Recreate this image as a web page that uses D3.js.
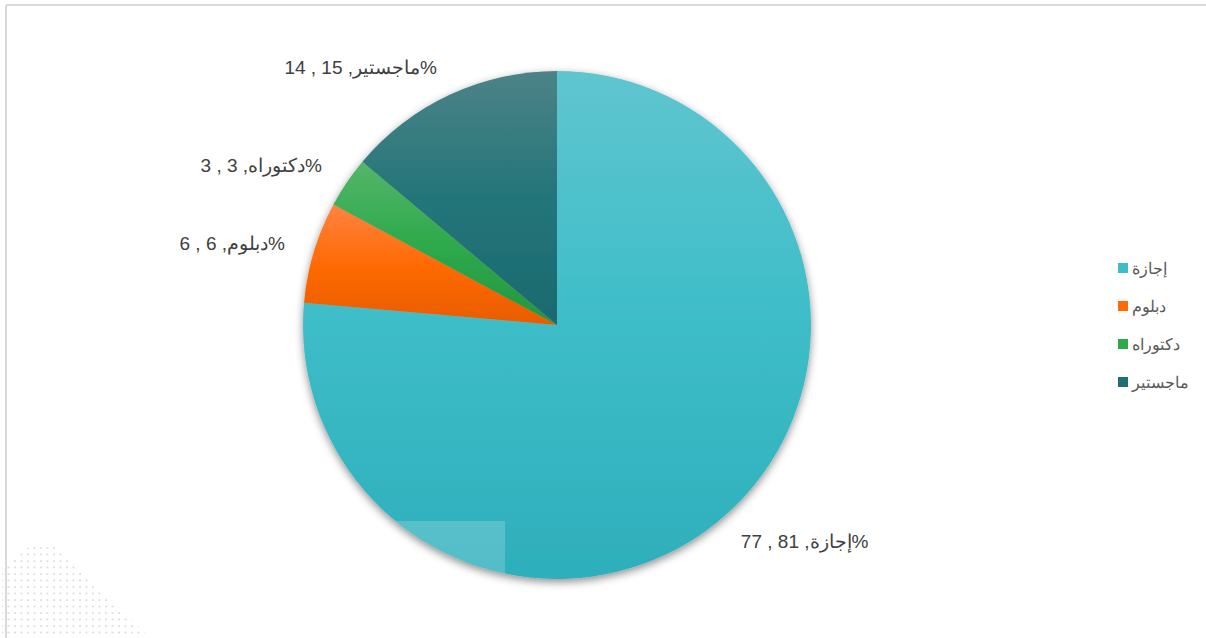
<!DOCTYPE html>
<html>
<head>
<meta charset="utf-8">
<script src="https://cdn.jsdelivr.net/npm/d3@7"></script>
<style>
  body { margin: 0; background: #fff; }
  svg { display: block; font-family: "Liberation Sans", Arial, sans-serif; }
</style>
</head>
<body>
<div id="chart"></div>
<script>
// data
var categories = ["إجازة", "دبلوم", "دكتوراه", "ماجستير"];
var values = [77.81, 6.6, 3.3, 14.15];
var valueLabels = ["77 , 81", "6 , 6", "3 , 3", "14 , 15"];

// colours: top / middle / bottom of each slice gradient
var colors = [
  ["#5fc5cf", "#3dbdc8", "#2eafbb"],
  ["#ff8340", "#ff6a05", "#e85c00"],
  ["#55b56a", "#2eaa4c", "#24963f"],
  ["#4c8387", "#237579", "#1b6a70"]
];
var legendColors = ["#3dbdc8", "#ff6a05", "#2eaa4c", "#1f7075"];

var width = 1206, height = 638;
var cx = 557, cy = 325, radius = 254;

var svg = d3.select("#chart")
  .append("svg")
    .attr("width", width)
    .attr("height", height);

var defs = svg.append("defs");

// one vertical gradient per slice
colors.forEach(function(c, i) {
  var g = defs.append("linearGradient")
    .attr("id", "grad" + i)
    .attr("x1", 0).attr("y1", 0).attr("x2", 0).attr("y2", 1);
  g.append("stop").attr("offset", "0%").attr("stop-color", c[0]);
  g.append("stop").attr("offset", "50%").attr("stop-color", c[1]);
  g.append("stop").attr("offset", "100%").attr("stop-color", c[2]);
});

var shadow = defs.append("filter")
  .attr("id", "shadow")
  .attr("x", "-10%").attr("y", "-10%").attr("width", "120%").attr("height", "120%");
shadow.append("feDropShadow")
  .attr("dx", 0).attr("dy", 3)
  .attr("stdDeviation", 4)
  .attr("flood-color", "#000")
  .attr("flood-opacity", 0.45);

defs.append("clipPath").attr("id", "pieClip")
  .append("circle").attr("cx", cx).attr("cy", cy).attr("r", radius);

// dotted decoration, bottom left
var dots = defs.append("pattern")
  .attr("id", "dots")
  .attr("patternUnits", "userSpaceOnUse")
  .attr("width", 6.5).attr("height", 6.5);
dots.append("circle").attr("cx", 2).attr("cy", 2).attr("r", 0.9).attr("fill", "#cfcfcf");

svg.append("path")
  .attr("d", "M2,638 L2,568 L25,548 L55,545 L150,638 Z")
  .attr("fill", "url(#dots)");

// frame lines top / left
svg.append("line")
  .attr("x1", 6).attr("y1", 5).attr("x2", width).attr("y2", 5)
  .attr("stroke", "#d9d9d9").attr("stroke-width", 2);
svg.append("line")
  .attr("x1", 6).attr("y1", 5).attr("x2", 6).attr("y2", height)
  .attr("stroke", "#d9d9d9").attr("stroke-width", 2);

// pie
var pie = d3.pie().sort(null).value(function(d) { return d; });
var arcs = pie(values);
var arc = d3.arc().innerRadius(0).outerRadius(radius);
var labelArc = d3.arc().innerRadius(284).outerRadius(284);

var g = svg.append("g")
  .attr("transform", "translate(" + cx + "," + cy + ")");

var slices = g.append("g").attr("filter", "url(#shadow)");
slices.selectAll("path")
  .data(arcs)
  .enter()
  .append("path")
    .attr("d", arc)
    .attr("fill", function(d, i) { return "url(#grad" + i + ")"; });

// light overlay block near the bottom of the pie
svg.append("rect")
  .attr("x", 395).attr("y", 521).attr("width", 110).attr("height", 70)
  .attr("fill", "#ffffff").attr("opacity", 0.18)
  .attr("clip-path", "url(#pieClip)");

// data labels
g.selectAll("text.lbl")
  .data(arcs)
  .enter()
  .append("text")
    .attr("class", "lbl")
    .attr("direction", "ltr")
    .attr("transform", function(d) {
      var c = labelArc.centroid(d);
      var mid = (d.startAngle + d.endAngle) / 2;
      // right side label sits a bit lower and closer, like the original
      if (mid < Math.PI) { c[0] -= 8; c[1] += 7; }
      return "translate(" + c + ")";
    })
    .attr("text-anchor", function(d) {
      var mid = (d.startAngle + d.endAngle) / 2;
      return mid < Math.PI ? "start" : "end";
    })
    .attr("dy", "0.35em")
    .style("font-size", "19px")
    .style("fill", "#404040")
    .text(function(d, i) { return valueLabels[i] + " ," + categories[i] + "%"; });

// legend
var legend = svg.append("g")
  .attr("transform", "translate(1118,268)");
var item = legend.selectAll("g")
  .data(categories)
  .enter()
  .append("g")
    .attr("transform", function(d, i) { return "translate(0," + (i * 38) + ")"; });
item.append("rect")
  .attr("x", 0).attr("y", -5)
  .attr("width", 10).attr("height", 10)
  .attr("fill", function(d, i) { return legendColors[i]; });
item.append("text")
  .attr("x", 14)
  .attr("dy", "0.35em")
  .style("font-size", "16px")
  .style("fill", "#595959")
  .text(function(d) { return d; });
</script>
</body>
</html>
